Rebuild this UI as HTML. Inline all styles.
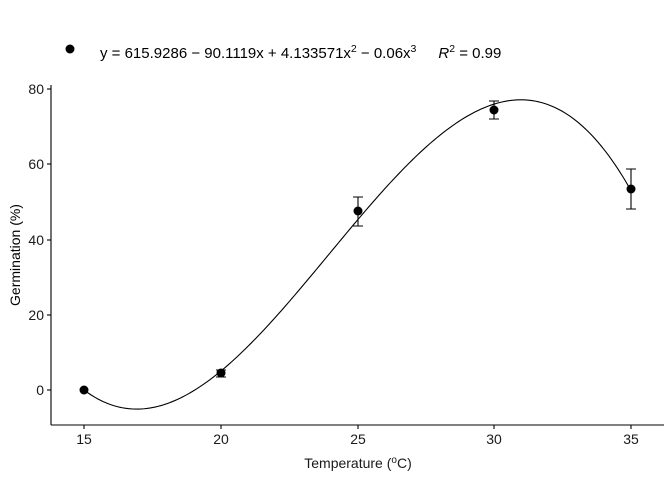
<!DOCTYPE html>
<html><head><meta charset="utf-8"><style>
body{margin:0;background:#fff}
svg{display:block;font-family:"Liberation Sans",Arial,sans-serif}
</style></head><body>
<svg id="s" width="672" height="480" viewBox="0 0 672 480" xmlns="http://www.w3.org/2000/svg">
<rect width="672" height="480" fill="#fff"/>
<circle cx="70" cy="49" r="4.5" fill="#000"/>
<text x="100" y="58" font-size="15" fill="#000">y = 615.9286 − 90.1119x + 4.133571x<tspan dy="-6" font-size="10.5">2</tspan><tspan dy="6"> − 0.06x</tspan><tspan dy="-6" font-size="10.5">3</tspan><tspan dy="6" dx="22" font-style="italic">R</tspan><tspan dy="-6" font-size="10.5">2</tspan><tspan dy="6"> = 0.99</tspan></text>
<g stroke="#000" stroke-width="1.1" fill="none">
<line x1="51" y1="85" x2="51" y2="425"/>
<line x1="51" y1="425" x2="664" y2="425"/>
<line x1="47" y1="390" x2="51" y2="390"/>
<line x1="47" y1="315" x2="51" y2="315"/>
<line x1="47" y1="240" x2="51" y2="240"/>
<line x1="47" y1="164" x2="51" y2="164"/>
<line x1="47" y1="89" x2="51" y2="89"/>
<line x1="84" y1="425" x2="84" y2="429"/>
<line x1="221" y1="425" x2="221" y2="429"/>
<line x1="358" y1="425" x2="358" y2="429"/>
<line x1="494" y1="425" x2="494" y2="429"/>
<line x1="631" y1="425" x2="631" y2="429"/>
<path id="c"/>
<path d="M216,370H226M221,370V377M216,377H226"/>
<path d="M353,197H363M358,197V226M353,226H363"/>
<path d="M489,101H499M494,101V119M489,119H499"/>
<path d="M626,169H636M631,169V209M626,209H636"/>
</g>
<g fill="#000">
<circle cx="84" cy="390" r="4.5"/>
<circle cx="221" cy="373" r="4.5"/>
<circle cx="358" cy="211" r="4.5"/>
<circle cx="494" cy="110" r="4.5"/>
<circle cx="631" cy="189" r="4.5"/>
</g>
<g font-size="14" fill="#1a1a1a" text-anchor="end">
<text x="44" y="395">0</text><text x="44" y="320">20</text><text x="44" y="245">40</text><text x="44" y="169">60</text><text x="44" y="94">80</text>
</g>
<g font-size="14" fill="#1a1a1a" text-anchor="middle">
<text x="84" y="444">15</text><text x="221" y="444">20</text><text x="358" y="444">25</text><text x="494" y="444">30</text><text x="631" y="444">35</text>
<text x="358" y="468">Temperature (<tspan dy="-5" font-size="10">o</tspan><tspan dy="5">C)</tspan></text>
</g>
<text transform="translate(20,255) rotate(-90)" font-size="14" text-anchor="middle" fill="#000">Germination (%)</text>
</svg>
<script>
var d="";for(var i=0;i<=200;i++){var x=15+20*i/200,u=x-25;var y=45.17+8.583*u-0.1867*u*u-0.05933*u*u*u;
d+=(i?"L":"M")+(84+(x-15)*27.35).toFixed(2)+","+(390-y*3.7625).toFixed(2);}
document.getElementById("c").setAttribute("d",d);
</script>
</body></html>
